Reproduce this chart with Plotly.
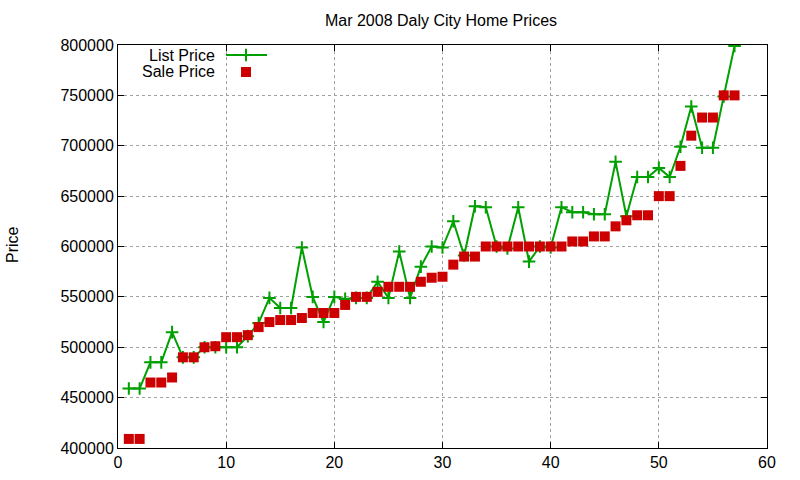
import plotly.graph_objects as go

idx = list(range(1, 58))
list_price = [459000, 459000, 485000, 485000, 515000, 490000, 490000, 500000, 500000, 500000,
              500000, 511000, 524000, 549000, 539000, 539000, 599000, 550000, 525000, 550000,
              548000, 549000, 549000, 565000, 549000, 595000, 549000, 580000, 600000, 599000,
              625000, 591000, 640000, 639000, 600000, 598000, 639000, 585000, 600000, 599000,
              639000, 634000, 634000, 632000, 632000, 684000, 630000, 669000, 669000, 678000,
              669000, 699000, 739000, 698000, 698000, 749000, 799000]
sale_price = [409000, 409000, 465000, 465000, 470000, 490000, 490000, 500000, 501000, 510000,
              510000, 512000, 520000, 525000, 527000, 527000, 529000, 534000, 534000, 534000,
              542000, 550000, 550000, 555000, 560000, 560000, 560000, 565000, 569000, 570000,
              582000, 590000, 590000, 600000, 600000, 600000, 600000, 600000, 600000, 600000,
              600000, 605000, 605000, 610000, 610000, 620000, 626000, 631000, 631000, 650000,
              650000, 680000, 710000, 728000, 728000, 750000, 750000]
x_ticks = [0, 10, 20, 30, 40, 50, 60]
y_ticks = [400000, 450000, 500000, 550000, 600000, 650000, 700000, 750000, 800000]

GREEN = "#00a000"
RED = "#cc0000"
FONT = "Liberation Sans, Arial, sans-serif"

# plot area in pixels
L, R, T, B = 118, 767, 45, 448
PW, PH = R - L, B - T


def px(xp):
    return (xp - L) / PW


def py(yp):
    return (B - yp) / PH


fig = go.Figure()
fig.add_trace(go.Scatter(
    x=idx, y=list_price, mode="lines+markers", name="List Price",
    line=dict(color=GREEN, width=2),
    marker=dict(symbol="cross-thin", size=9, line=dict(color=GREEN, width=2), color=GREEN),
))
fig.add_trace(go.Scatter(
    x=idx, y=sale_price, mode="markers", name="Sale Price",
    marker=dict(symbol="square", size=10, color=RED, line=dict(width=0)),
))

# custom gnuplot-style legend (text left, sample right)
fig.add_trace(go.Scatter(
    x=[px(226), px(267)], y=[py(55), py(55)], mode="lines", xaxis="x2", yaxis="y2",
    line=dict(color=GREEN, width=2), showlegend=False, hoverinfo="skip"))
fig.add_trace(go.Scatter(
    x=[px(246)], y=[py(55)], mode="markers", xaxis="x2", yaxis="y2",
    marker=dict(symbol="cross-thin", size=9, line=dict(color=GREEN, width=2)),
    showlegend=False, hoverinfo="skip"))
fig.add_trace(go.Scatter(
    x=[px(246)], y=[py(72)], mode="markers", xaxis="x2", yaxis="y2",
    marker=dict(symbol="square", size=10, color=RED),
    showlegend=False, hoverinfo="skip"))

fig.add_annotation(text="List Price", x=px(217), y=py(55), xref="paper", yref="paper",
                   xanchor="right", yanchor="middle", showarrow=False,
                   font=dict(family=FONT, size=16, color="black"))
fig.add_annotation(text="Sale Price", x=px(217), y=py(72), xref="paper", yref="paper",
                   xanchor="right", yanchor="middle", showarrow=False,
                   font=dict(family=FONT, size=16, color="black"))
fig.add_annotation(text="Price", x=px(12), y=py(245), xref="paper", yref="paper",
                   xanchor="center", yanchor="middle", showarrow=False, textangle=-90,
                   font=dict(family=FONT, size=16, color="black"))

axis_common = dict(
    showline=True, linecolor="black", linewidth=1, mirror="ticks",
    ticks="inside", ticklen=6, tickcolor="black",
    showgrid=True, gridcolor="#a0a0a0", griddash="dot", gridwidth=1,
    zeroline=False, tickfont=dict(family=FONT, size=16, color="black"),
)

fig.update_layout(
    width=800, height=480,
    margin=dict(l=L, r=800 - R, t=T, b=480 - B, autoexpand=False),
    paper_bgcolor="white", plot_bgcolor="white",
    showlegend=False,
    title=dict(text="Mar 2008 Daly City Home Prices", x=441 / 800, xanchor="center",
               y=1 - 20 / 480, yanchor="middle",
               font=dict(family=FONT, size=16, color="black")),
    xaxis=dict(range=[0, 60], tickvals=x_ticks, **axis_common),
    yaxis=dict(range=[400000, 800000], tickvals=y_ticks, tickformat="d", **axis_common),
    xaxis2=dict(range=[0, 1], overlaying="x", visible=False),
    yaxis2=dict(range=[0, 1], overlaying="y", visible=False),
)

fig.write_html("out.html", config={"displayModeBar": False},
               post_script="document.body.style.margin='0';")
